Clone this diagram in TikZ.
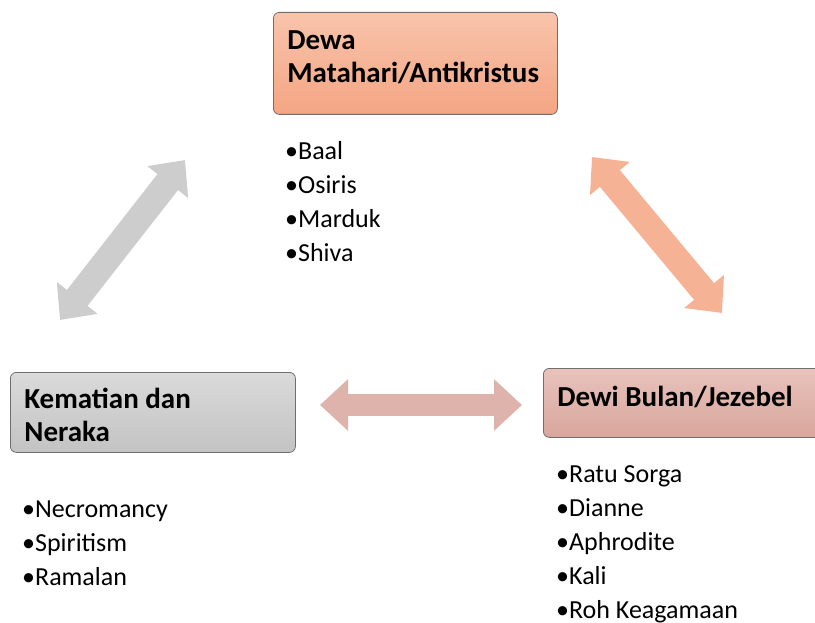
\documentclass[tikz,border=0pt]{standalone}
\usepackage{fontspec}
\setmainfont{Carlito}
\usetikzlibrary{arrows.meta}

\definecolor{sunTop}{HTML}{F8C4AC}
\definecolor{sunBot}{HTML}{F4A583}
\definecolor{deathTop}{HTML}{DADADA}
\definecolor{deathBot}{HTML}{C3C3C3}
\definecolor{moonTop}{HTML}{E8C3BC}
\definecolor{moonBot}{HTML}{D8A69C}
\definecolor{boxline}{HTML}{6E6E6E}
\definecolor{arrGray}{HTML}{CDCDCD}
\definecolor{arrSun}{HTML}{F5B294}
\definecolor{arrMoon}{HTML}{DDB3AB}

\begin{document}
\begin{tikzpicture}[x=1pt,y=-1pt,
    titlebox/.style={draw=boxline, line width=0.8pt, rounded corners=6pt, anchor=north west,
      align=flush left, inner xsep=14pt, font=\fontsize{29}{33}\selectfont\bfseries},
    itemlist/.style={anchor=north west, align=flush left, inner sep=0pt, font=\fontsize{26}{34}\selectfont},
    blockarrow/.style={draw=#1, line width=26pt,
      {Triangle[length=28pt,width=50pt]}-{Triangle[length=28pt,width=50pt]}}]
  \useasboundingbox (0,0) rectangle (815,623);

  % boxes
  \node[titlebox, top color=sunTop, bottom color=sunBot, minimum width=284pt, minimum height=102pt,
    text width=256pt] (sun) at (273,12) {Dewa\\Matahari/Antikristus\rule[-13pt]{0pt}{0pt}};
  \node[titlebox, top color=deathTop, bottom color=deathBot, minimum width=285pt, minimum height=80pt,
    text width=257pt] (death) at (10,372) {\rule{0pt}{26pt}Kematian dan\\Neraka};
  \node[titlebox, top color=moonTop, bottom color=moonBot, minimum width=290pt, minimum height=69pt,
    text width=262pt] (moon) at (543,368) {Dewi Bulan/Jezebel\rule[-14pt]{0pt}{0pt}};

  % lists
  \node[itemlist] (sunlist) at (285,141) {\textbullet Baal\\\textbullet Osiris\\\textbullet Marduk\\\textbullet Shiva};
  \node[itemlist] (deathlist) at (22,501) {\textbullet Necromancy\\\textbullet Spiritism\\\textbullet Ramalan};
  \node[itemlist] (moonlist) at (556,465) {\textbullet Ratu Sorga\\\textbullet Dianne\\\textbullet Aphrodite\\\textbullet Kali\\\textbullet Roh Keagamaan};

  % arrows
  \coordinate (g1) at (60,320);
  \coordinate (g2) at (185,160);
  \coordinate (s1) at (592,157);
  \coordinate (s2) at (722,313);
  \coordinate (m1) at (320,405);
  \coordinate (m2) at (522,405);
  \draw[blockarrow=arrGray] (g1) -- (g2);
  \draw[blockarrow=arrSun] (s1) -- (s2);
  \draw[blockarrow=arrMoon, line width=22pt] (m1) -- (m2);
\end{tikzpicture}
\end{document}
